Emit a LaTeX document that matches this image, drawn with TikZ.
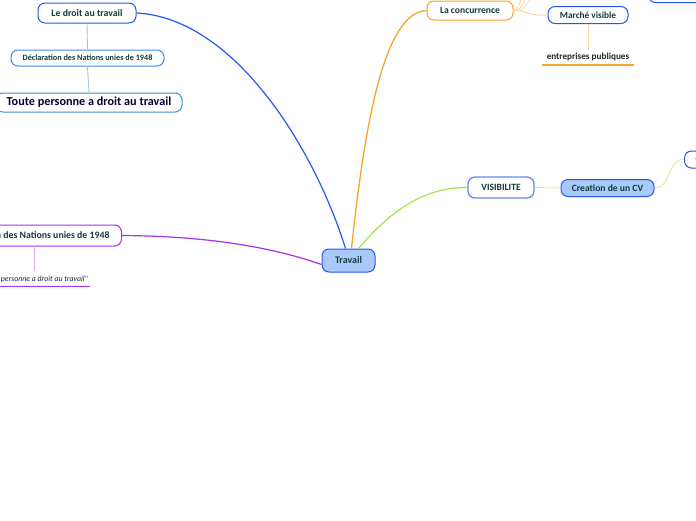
\documentclass[tikz,border=0pt]{standalone}
\usepackage{fontspec}
\setmainfont{Carlito}
\definecolor{txt}{HTML}{123C3E}
\definecolor{bblue}{HTML}{2658EE}
\definecolor{lblue}{HTML}{A9C9FA}
\definecolor{mblue}{HTML}{3F8CE4}
\definecolor{lline}{HTML}{A8C2F2}
\definecolor{orng}{HTML}{F9A52B}
\definecolor{lorng}{HTML}{FDD49A}
\definecolor{grn}{HTML}{9BE63C}
\definecolor{lgrn}{HTML}{C9F194}
\definecolor{purp}{HTML}{A532E8}
\definecolor{lpurp}{HTML}{DBA8F6}
\tikzset{
  topic/.style={draw=bblue, line width=1pt, fill=white, rounded corners=7pt, inner sep=0pt, text=txt, font=\bfseries\fontsize{9.6}{10}\selectfont},
}
\begin{document}
\begin{tikzpicture}[x=1pt,y=-1pt]
\useasboundingbox (0,0) rectangle (696,520);
\clip (0,0) rectangle (696,520);
\fill[white] (0,0) rectangle (696,520);
% nodes
\node[topic, minimum width=98pt, minimum height=20pt, font=\bfseries\fontsize{9.8}{10}\selectfont] (droit) at (87,13) {Le droit au travail};
\node[topic, draw=mblue, minimum width=153pt, minimum height=16pt, font=\bfseries\fontsize{8.2}{9}\selectfont] (decl) at (87.5,58) {Déclaration des Nations unies de 1948};
\node[topic, draw=mblue, minimum width=186pt, minimum height=19pt, font=\bfseries\fontsize{12.2}{13}\selectfont, text=black!80!blue] (toute) at (89,102.5) {Toute personne a droit au travail};
\node[topic, fill=lblue, minimum width=53pt, minimum height=23pt, font=\bfseries\fontsize{10}{11}\selectfont] (trav) at (348.5,260.5) {Travail};
\node[topic, draw=orng, minimum width=86pt, minimum height=19pt] (conc) at (470,10.5) {La concurrence};
\node[topic, minimum width=80pt, minimum height=17pt, font=\bfseries\fontsize{9.3}{10}\selectfont] (marche) at (588,15) {Marché visible};
\node[inner sep=0pt, font=\bfseries\fontsize{9.2}{10}\selectfont, text=black!85] (entr) at (588,57) {entreprises publiques};
\node[topic, draw=bblue!70, line width=1.3pt, minimum width=66pt, minimum height=21pt] (visi) at (501,187.5) {VISIBILITE};
\node[topic, fill=lblue, minimum width=93pt, minimum height=17pt] (cv) at (607.5,188) {Creation de un CV};
\node[topic, minimum width=40pt, minimum height=17pt, anchor=west, text width=30pt, align=left] (cvsub) at (684,159.5) {\hspace{6pt}C};
\node[topic, draw=purp, minimum height=21pt, anchor=east, inner xsep=12pt, font=\bfseries\fontsize{9.8}{10}\selectfont] (left) at (122,235.5) {Déclaration des Nations unies de 1948};
\node[inner sep=0pt, anchor=east, font=\itshape\fontsize{7.8}{8}\selectfont, text=black!85] (quote) at (88,279.5) {\textquotedbl Toute personne a droit au travail\textquotedbl};
\node[topic, minimum width=80pt, minimum height=17pt, anchor=south west] (trc) at (648,3) {};
% underlines
\coordinate (eu1) at (542,65); \coordinate (eu2) at (634,65);
\draw[orng, line width=1.2pt] (eu1) -- (eu2);
\coordinate (qu1) at (0,286.5); \coordinate (qu2) at (90,286.5);
\draw[purp, line width=1.2pt] (qu1) -- (qu2);
% connectors
\draw[lline, line width=0.9pt] (droit.south) -- (decl.north);
\draw[lline, line width=0.9pt] (decl.south) -- (toute.north);
\draw[bblue, line width=1.2pt] (droit.east) .. controls (235,18) and (315,150) .. ([xshift=-3pt]trav.north);
\draw[orng, line width=1.3pt] ([xshift=3pt]trav.north) .. controls (365,120) and (385,12) .. (conc.west);
\draw[grn, line width=1.1pt] ([xshift=10pt]trav.north) .. controls (395,205) and (430,187) .. (visi.west);
\draw[purp, line width=1.2pt] ([yshift=-4pt]trav.west) .. controls (260,243) and (190,236) .. (left.east);
\coordinate (le) at (34,245.5); \coordinate (ql) at (34,271);
\draw[lpurp, line width=0.9pt] (le) -- (ql);
\draw[lorng, line width=0.9pt] ([yshift=1pt]conc.east) .. controls (530,12) and (530,16) .. (marche.west);
\coordinate (up1) at (522,-3); \coordinate (up2) at (527,-3); \coordinate (up3) at (532,-3);
\draw[lorng, line width=0.6pt] (conc.east) .. controls (518,8) .. (up1);
\draw[lorng, line width=0.6pt] (conc.east) .. controls (520,9) .. (up2);
\draw[lorng, line width=0.6pt] (conc.east) .. controls (523,10) .. (up3);
\coordinate (en) at (588,50);
\draw[lorng, line width=0.9pt] (marche.south) -- (en);
\draw[lgrn, line width=0.9pt] (visi.east) -- (cv.west);
\draw[lgrn, line width=0.9pt] (cv.east) .. controls (672,188) and (666,159.5) .. (cvsub.west);
\end{tikzpicture}
\end{document}
